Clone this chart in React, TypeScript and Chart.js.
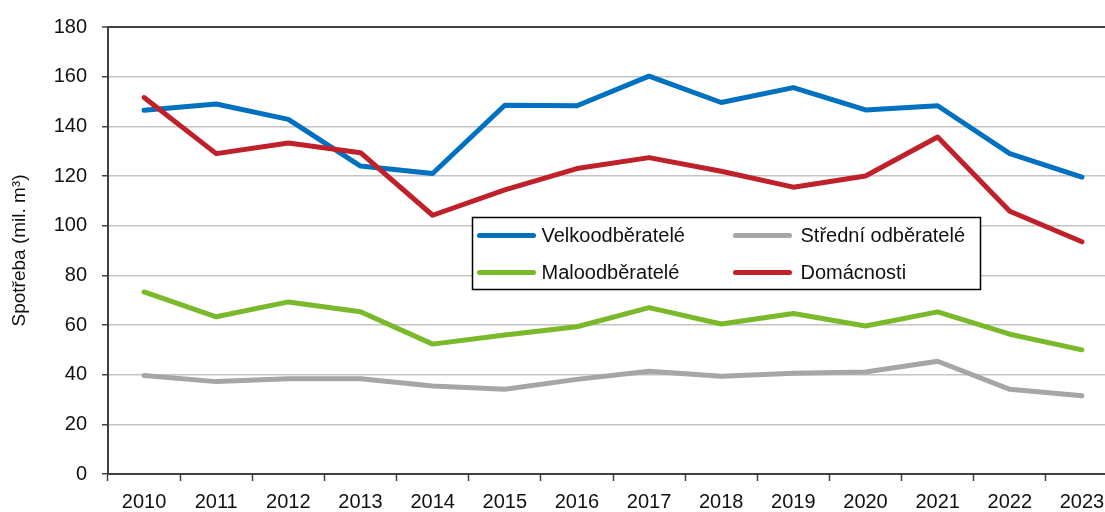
import React, { useEffect, useRef } from "react";
import { Chart, registerables } from "chart.js";

Chart.register(...registerables);

const years = ["2010", "2011", "2012", "2013", "2014", "2015", "2016", "2017", "2018", "2019", "2020", "2021", "2022", "2023"];
const velkoodberatele = [146.5, 149, 142.8, 124, 121, 148.5, 148.3, 160.2, 149.6, 155.6, 146.6, 148.3, 129, 119.5];
const stredniOdberatele = [39.7, 37.2, 38.4, 38.4, 35.4, 34.1, 38.1, 41.4, 39.4, 40.6, 41.1, 45.4, 34.1, 31.5];
const maloodberatele = [73.3, 63.3, 69.3, 65.3, 52.3, 56, 59.3, 67, 60.4, 64.6, 59.6, 65.3, 56.3, 50];
const domacnosti = [151.6, 129, 133.3, 129.4, 104.2, 114.4, 123, 127.4, 121.9, 115.5, 120, 135.7, 105.8, 93.5];
const seriesNames = ["Velkoodběratelé", "Střední odběratelé", "Maloodběratelé", "Domácnosti"];
const yMin = 0;
const yMax = 180;
const yStep = 20;
const yTitle = "Spotřeba (mil. m³)";

const FONT = "'Liberation Sans', Arial, sans-serif";
const TEXT = "#111111";
const AXIS = "#404040";

const insideLegend = {
  id: "insideLegend",
  afterDraw(chart: any) {
    const { ctx, chartArea: a } = chart;
    const w = a.right - a.left;
    const h = a.bottom - a.top;
    const x0 = Math.round(a.left + w * 0.3604) + 0.5;
    const x1 = Math.round(a.left + w * 0.8634) + 0.5;
    const y0 = Math.round(a.top + h * 0.425) + 0.5;
    const y1 = Math.round(a.top + h * 0.5855) + 0.5;
    ctx.save();
    ctx.fillStyle = "#ffffff";
    ctx.fillRect(x0, y0, x1 - x0, y1 - y0);
    ctx.strokeStyle = "#000000";
    ctx.lineWidth = 1.5;
    ctx.strokeRect(x0, y0, x1 - x0, y1 - y0);
    const bw = x1 - x0;
    const bh = y1 - y0;
    const cols = [
      { sample: 7 / 508, text: 69 / 508 },
      { sample: 263 / 508, text: 328 / 508 },
    ];
    const rows = [18 / 72, 55 / 72];
    ctx.font = `20px ${FONT}`;
    ctx.textBaseline = "middle";
    ctx.textAlign = "left";
    chart.data.datasets.forEach((ds: any, i: number) => {
      const c = cols[i % 2];
      const r = rows[Math.floor(i / 2)];
      const sx = x0 + bw * c.sample;
      const sy = y0 + bh * r;
      ctx.strokeStyle = ds.borderColor;
      ctx.lineWidth = 5;
      ctx.lineCap = "round";
      ctx.beginPath();
      ctx.moveTo(sx, sy);
      ctx.lineTo(sx + 54, sy);
      ctx.stroke();
      ctx.fillStyle = TEXT;
      ctx.fillText(ds.label, x0 + bw * c.text, sy + 1);
    });
    ctx.restore();
  },
};

export default function App() {
  const ref = useRef<HTMLCanvasElement | null>(null);

  useEffect(() => {
    document.body.style.overflow = "hidden";
    if (!ref.current) return;
    const mk = (label: string, data: number[], color: string, order: number) => ({
      label,
      data,
      borderColor: color,
      backgroundColor: color,
      borderWidth: 5,
      pointRadius: 0,
      pointHoverRadius: 0,
      tension: 0,
      fill: false,
      borderCapStyle: "round" as const,
      borderJoinStyle: "round" as const,
      order,
    });
    const chart = new Chart(ref.current, {
      type: "line",
      data: {
        labels: years,
        datasets: [
          mk(seriesNames[0], velkoodberatele, "#0070C0", 4),
          mk(seriesNames[1], stredniOdberatele, "#A6A6A6", 3),
          mk(seriesNames[2], maloodberatele, "#7AB929", 2),
          mk(seriesNames[3], domacnosti, "#C0202A", 1),
        ],
      },
      options: {
        responsive: false,
        animation: false,
        devicePixelRatio: 1,
        layout: { padding: { top: 22, left: 0, right: 0, bottom: 0 } },
        plugins: {
          legend: { display: false },
          tooltip: { enabled: false },
        },
        scales: {
          x: {
            type: "category",
            offset: true,
            afterFit: (s: any) => {
              s.height = 38;
            },
            grid: {
              offset: true,
              drawOnChartArea: false,
              drawTicks: true,
              tickLength: 7,
              tickColor: AXIS,
              tickWidth: 1.5,
            },
            border: { color: AXIS, width: 2 },
            ticks: {
              padding: 9,
              maxRotation: 0,
              autoSkip: false,
              color: TEXT,
              font: { family: FONT, size: 20 },
            },
          },
          y: {
            min: yMin,
            max: yMax,
            afterFit: (s: any) => {
              s.width = 108;
            },
            grid: {
              color: (c: any) => (c.tick && c.tick.value === yMax ? AXIS : "#C4C4C4"),
              lineWidth: (c: any) => (c.tick && c.tick.value === yMax ? 2 : 1.5),
              tickLength: 6,
              tickColor: AXIS,
              tickWidth: 1.5,
            },
            border: { color: AXIS, width: 2 },
            ticks: {
              stepSize: yStep,
              padding: 15,
              color: TEXT,
              font: { family: FONT, size: 20 },
            },
            title: {
              display: true,
              text: yTitle,
              color: TEXT,
              font: { family: FONT, size: 19 },
              padding: { top: 8, bottom: 0 },
            },
          },
        },
      },
      plugins: [insideLegend],
    });
    return () => chart.destroy();
  }, []);

  return (
    <div style={{ position: "fixed", left: 0, top: 0, width: 1118, height: 512, background: "#fff" }}>
      <canvas ref={ref} width={1118} height={512} style={{ display: "block" }} />
    </div>
  );
}
